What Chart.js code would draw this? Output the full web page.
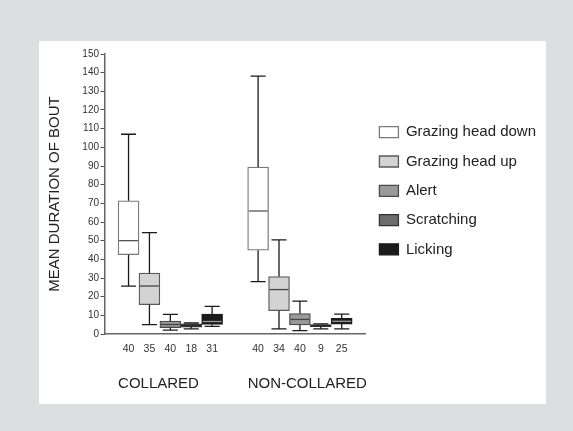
<!DOCTYPE html>
<html><head><meta charset="utf-8">
<script src="https://cdn.jsdelivr.net/npm/chart.js@4.4.1/dist/chart.umd.min.js"></script>
<style>
html,body{margin:0;padding:0;background:#dddee0;width:573px;height:431px;overflow:hidden;}
#panel{position:absolute;left:39px;top:41px;width:507px;height:363px;background:#fff;}
#c{position:absolute;left:0;top:0;}
</style></head><body>
<div id="panel"></div>
<canvas id="c" width="573" height="431"></canvas>
<script>
// ---- data ----
const groups = ['COLLARED', 'NON-COLLARED'];
const behaviours = ['Grazing head down', 'Grazing head up', 'Alert', 'Scratching', 'Licking'];
const sampleSizes = [[40, 35, 40, 18, 31], [40, 34, 40, 9, 25]];
// rows: group, columns: behaviour
const whiskerLow  = [[25.7, 5.0, 2.1, 2.7, 4.1], [28.1, 2.7, 1.8, 2.7, 2.7]];
const quartile1   = [[42.5, 15.7, 3.4, 3.7, 5.1], [44.9, 12.5, 4.8, 3.9, 5.3]];
const medians     = [[50.0, 25.7, 5.1, 4.6, 6.7], [65.9, 23.8, 7.8, 4.5, 6.8]];
const quartile3   = [[71.4, 32.6, 6.9, 5.5, 10.7], [89.4, 30.8, 11.0, 5.1, 8.4]];
const whiskerHigh = [[107, 54.3, 10.5, 5.9, 14.8], [138.2, 50.4, 17.6, 5.4, 10.7]];

// ---- styles ----
const fills = ['#ffffff', '#d3d3d3', '#9a9a9a', '#6c6c6c', '#1c1c1c'];
const borders = ['#7a7a7a', '#5a5a5a', '#4a4a4a', '#333333', '#1a1a1a'];
const medianColors = ['#555555', '#444444', '#444444', '#2a2a2a', '#9a9a9a'];
const GROUP_GAP = 6.2; // slot offset of the second group
const slot = (g, b) => g * GROUP_GAP + b;

Chart.defaults.font.family = "'Liberation Sans', Arial, Helvetica, sans-serif";
Chart.defaults.color = '#333';

const datasets = behaviours.map((name, b) => ({
  label: name,
  data: groups.map((g, gi) => ({ x: slot(gi, b), y: [quartile1[gi][b], quartile3[gi][b]] })),
  backgroundColor: fills[b],
  borderColor: borders[b],
  borderWidth: 1.3,
  borderSkipped: false,
  grouped: false,
  barPercentage: 1,
  categoryPercentage: 1
}));

const boxPlotPlugin = {
  id: 'boxWhiskers',
  afterDatasetsDraw(chart) {
    const ctx = chart.ctx;
    const ys = chart.scales.y;
    chart.data.datasets.forEach((ds, b) => {
      const meta = chart.getDatasetMeta(b);
      meta.data.forEach((bar, gi) => {
        const cx = bar.x, w = bar.width;
        const cap = w * 0.36;
        const pHi = ys.getPixelForValue(whiskerHigh[gi][b]);
        const pLo = ys.getPixelForValue(whiskerLow[gi][b]);
        const pQ1 = ys.getPixelForValue(quartile1[gi][b]);
        const pQ3 = ys.getPixelForValue(quartile3[gi][b]);
        const pMed = ys.getPixelForValue(medians[gi][b]);
        ctx.save();
        ctx.strokeStyle = '#1a1a1a';
        ctx.lineWidth = 1.3;
        ctx.beginPath();
        ctx.moveTo(cx, pQ3); ctx.lineTo(cx, pHi);
        ctx.moveTo(cx - cap, pHi); ctx.lineTo(cx + cap, pHi);
        ctx.moveTo(cx, pQ1); ctx.lineTo(cx, pLo);
        ctx.moveTo(cx - cap, pLo); ctx.lineTo(cx + cap, pLo);
        ctx.stroke();
        ctx.strokeStyle = medianColors[b];
        ctx.beginPath();
        ctx.moveTo(cx - w / 2 + 1, pMed); ctx.lineTo(cx + w / 2 - 1, pMed);
        ctx.stroke();
        ctx.restore();
      });
    });
  }
};

const flatSizes = sampleSizes.flat();
const countTicks = [];
groups.forEach((g, gi) => behaviours.forEach((n, b) => countTicks.push({ value: slot(gi, b) })));

new Chart(document.getElementById('c'), {
  type: 'bar',
  data: { datasets },
  plugins: [boxPlotPlugin],
  options: {
    responsive: false,
    animation: false,
    events: [],
    layout: { padding: { left: 40, top: 54, right: 27, bottom: 35 } },
    plugins: {
      tooltip: { enabled: false },
      legend: {
        position: 'right',
        align: 'start',
        maxWidth: 260,
        title: { display: true, text: '', font: { size: 12 }, padding: { top: 42, bottom: 0 } },
        labels: {
          font: { size: 15 },
          color: '#222',
          boxWidth: 19,
          boxHeight: 11,
          padding: 14.3
        }
      }
    },
    scales: {
      x: {
        type: 'linear',
        position: 'bottom',
        offset: false,
        min: -1.15,
        max: 11.32,
        bounds: 'data',
        afterBuildTicks: (s) => { s.ticks = countTicks.map(t => ({ value: t.value })); },
        afterFit: (s) => { s.height = 22; },
        ticks: {
          autoSkip: false,
          maxRotation: 0,
          padding: 8.5,
          font: { size: 10.5 },
          color: '#333',
          callback: (v, i) => String(flatSizes[i])
        },
        grid: { display: false, drawTicks: false },
        border: { display: true, color: '#666', width: 1.5 }
      },
      x2: {
        type: 'linear',
        position: 'bottom',
        offset: false,
        min: -1.15,
        max: 11.32,
        bounds: 'data',
        afterBuildTicks: (s) => { s.ticks = groups.map((g, gi) => ({ value: slot(gi, 0) - 0.5 })); },
        afterFit: (s) => { s.height = 40; },
        ticks: {
          autoSkip: false,
          maxRotation: 0,
          align: 'start',
          padding: 19.3,
          font: { size: 15 },
          color: '#222',
          callback: (v, i) => groups[i]
        },
        grid: { display: false, drawTicks: false },
        border: { display: false }
      },
      y: {
        min: 0,
        max: 150,
        afterFit: (s) => { s.width = 64.5; },
        ticks: { stepSize: 10, font: { size: 10 }, color: '#333', padding: 1.5 },
        grid: { drawOnChartArea: false, tickLength: 4, color: '#555', lineWidth: 1 },
        border: { display: true, color: '#666', width: 1.5 },
        title: {
          display: true,
          text: 'MEAN DURATION OF BOUT',
          font: { size: 15 },
          color: '#222',
          padding: { top: 5.5, bottom: 0 }
        }
      }
    }
  }
});
</script>
</body></html>
